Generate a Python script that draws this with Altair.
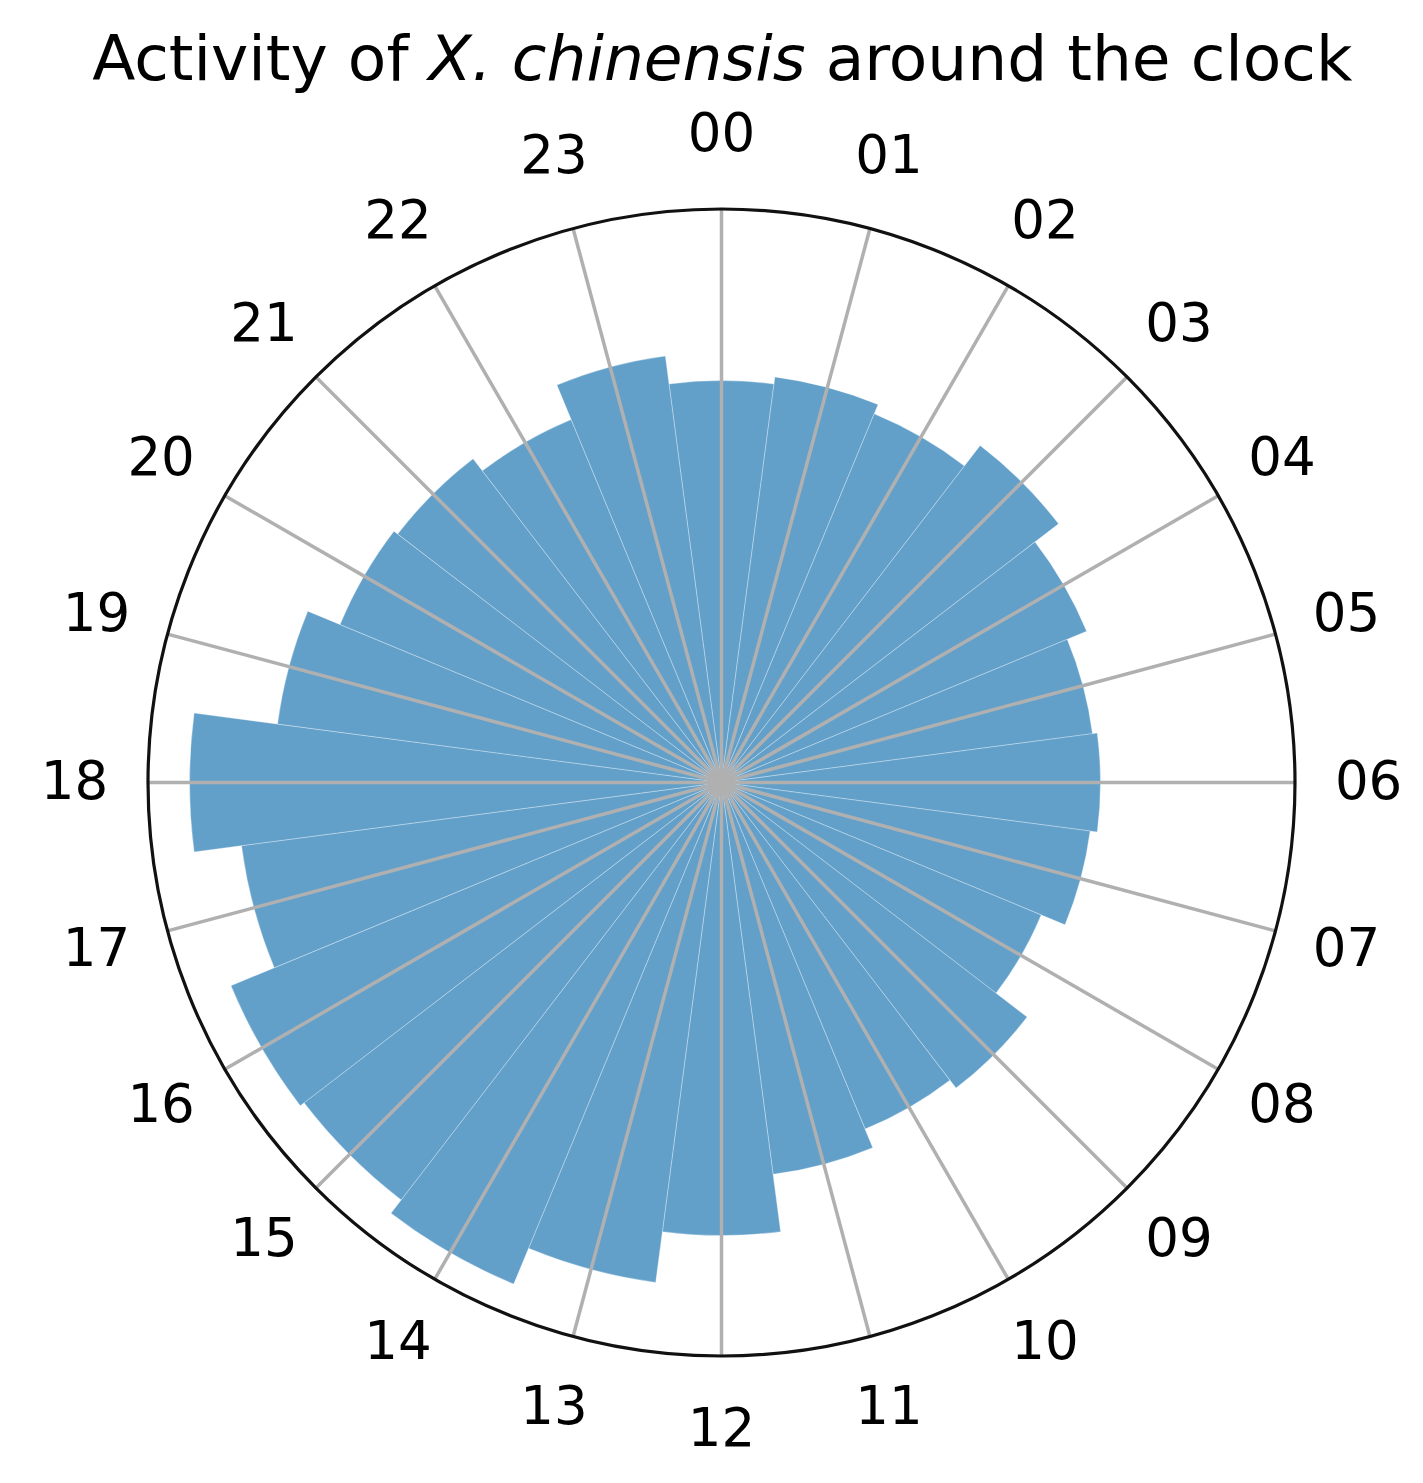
import math
import altair as alt
import pandas as pd

# ---- data ----
hours = ["00", "01", "02", "03", "04", "05", "06", "07", "08", "09", "10", "11",
         "12", "13", "14", "15", "16", "17", "18", "19", "20", "21", "22", "23"]
hour_index = list(range(24))
activity = [84.1, 85.6, 83.5, 88.9, 82.7, 78.3, 79.3, 77.8, 72.4, 80.6, 78.5, 82.7,
            94.8, 105.5, 113.6, 110.1, 111.1, 101.3, 111.3, 93.7, 86.4, 85.4, 82.2, 90.0]
title_parts = ["Activity of", "X. chinensis", "around the clock"]

# ---- layout ----
R_MAX = 120          # radial axis maximum (outer circle)
W, H = 1400, 1460
CX, CY = 713.5, 774.5
R_PX = 573.5
LABEL_R = 135.4      # label radius in data units
k = R_PX / R_MAX

x_scale = alt.Scale(type="linear", domain=[-CX / k, (W - CX) / k], range=[0, W], zero=False, nice=False)
y_scale = alt.Scale(type="linear", domain=[-(H - CY) / k, CY / k], range=[H, 0], zero=False, nice=False)
theta_scale = alt.Scale(type="linear", domain=[0, 360], range=[0, 2 * math.pi], zero=False, nice=False)
radius_scale = alt.Scale(type="linear", domain=[0, R_MAX], range=[0, R_PX], zero=True, nice=False)

df = pd.DataFrame({"hour": hours, "idx": hour_index, "activity": activity})

bars = alt.Chart(df).transform_calculate(
    start="datum.idx*15-7.5", end="datum.idx*15+7.5"
).mark_arc(color="#1f77b4", fillOpacity=0.7, stroke="white", strokeWidth=0.8, strokeOpacity=0.4).encode(
    theta=alt.Theta("start:Q", scale=theta_scale, stack=None),
    theta2="end:Q",
    radius=alt.Radius("activity:Q", scale=radius_scale),
    x=alt.value(CX),
    y=alt.value(CY),
)

ring_df = pd.DataFrame({"start": [0], "end": [360], "r": [R_MAX]})
ring = alt.Chart(ring_df).mark_arc(fill="transparent", stroke="#111111", strokeWidth=3.2).encode(
    theta=alt.Theta("start:Q", scale=theta_scale, stack=None),
    theta2="end:Q",
    radius=alt.Radius("r:Q", scale=radius_scale),
    x=alt.value(CX),
    y=alt.value(CY),
)

grid = alt.Chart(df).transform_calculate(
    ang="datum.idx*15*PI/180",
    x0="0",
    y0="0",
    gx=f"sin(datum.ang)*{R_MAX}",
    gy=f"cos(datum.ang)*{R_MAX}",
).mark_rule(color="#b0b0b0", strokeWidth=3.5).encode(
    x=alt.X("x0:Q", scale=x_scale, axis=None),
    y=alt.Y("y0:Q", scale=y_scale, axis=None),
    x2="gx:Q",
    y2="gy:Q",
)

labels = alt.Chart(df).transform_calculate(
    ang="datum.idx*15*PI/180",
    lx=f"sin(datum.ang)*{LABEL_R}",
    ly=f"cos(datum.ang)*{LABEL_R}",
).mark_text(font="DejaVu Sans", fontSize=53, color="black", align="center", baseline="middle").encode(
    x=alt.X("lx:Q", scale=x_scale, axis=None),
    y=alt.Y("ly:Q", scale=y_scale, axis=None),
    text="hour:N",
)

TITLE_SIZE = 63
TY = 72
X_PART1_END = 400.6
X_PART2_START = 420.6
X_PART3_START = 817.7
t1 = alt.Chart(pd.DataFrame({"t": [title_parts[0]]})).mark_text(
    font="DejaVu Sans", fontSize=TITLE_SIZE, align="right", baseline="alphabetic", color="black"
).encode(x=alt.value(X_PART1_END), y=alt.value(TY), text="t:N")
t2 = alt.Chart(pd.DataFrame({"t": [title_parts[1]]})).mark_text(
    font="DejaVu Sans", fontSize=TITLE_SIZE, fontStyle="italic", align="left", baseline="alphabetic", color="black"
).encode(x=alt.value(X_PART2_START), y=alt.value(TY), text="t:N")
t3 = alt.Chart(pd.DataFrame({"t": [title_parts[2]]})).mark_text(
    font="DejaVu Sans", fontSize=TITLE_SIZE, align="left", baseline="alphabetic", color="black"
).encode(x=alt.value(X_PART3_START), y=alt.value(TY), text="t:N")

chart = alt.layer(bars, grid, ring, labels, t1, t2, t3).properties(
    width=W, height=H, autosize=alt.AutoSizeParams(type="none"), padding=0
).configure_view(strokeWidth=0)

chart.save("out.html", embed_options={"renderer": "svg", "actions": False})
